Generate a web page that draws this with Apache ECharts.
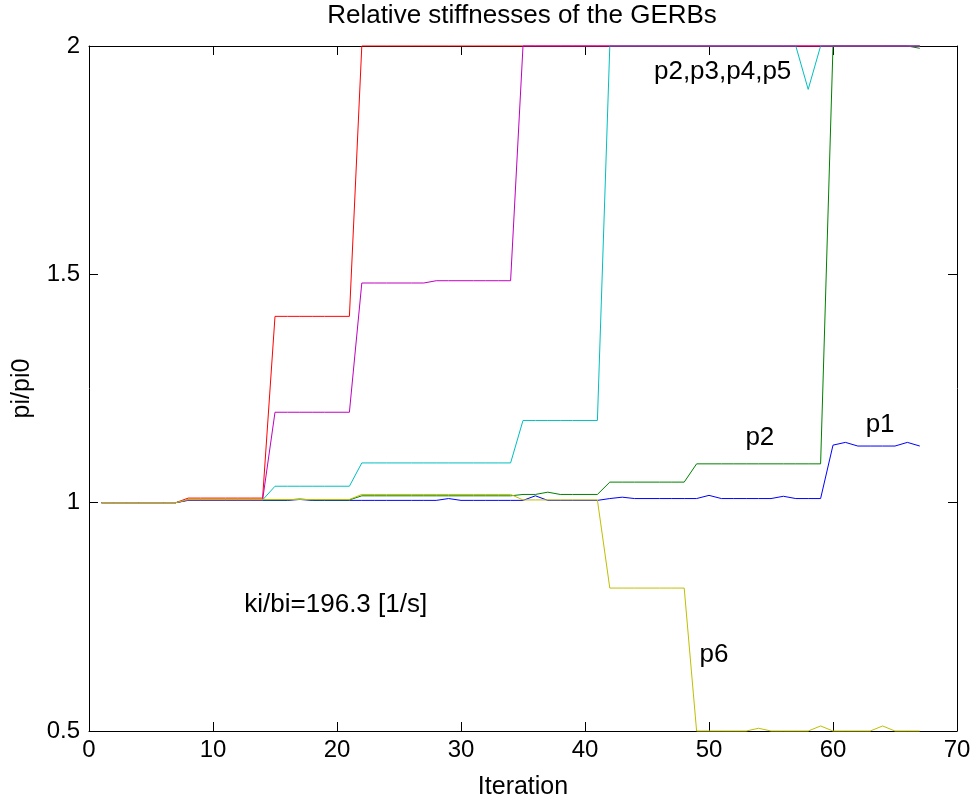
<!DOCTYPE html>
<html>
<head>
<meta charset="utf-8">
<script src="https://cdn.jsdelivr.net/npm/echarts@6/dist/echarts.min.js"></script>
<style>
html,body{margin:0;padding:0;background:#fff;}
#chart{width:975px;height:803px;}
</style>
</head>
<body>
<div id="chart"></div>
<script>
// Iteration numbers (x values)
const iterations = [1,2,3,4,5,6,7,8,9,10,11,12,13,14,15,16,17,18,19,20,21,22,23,24,25,26,27,28,29,30,31,32,33,34,35,36,37,38,39,40,41,42,43,44,45,46,47,48,49,50,51,52,53,54,55,56,57,58,59,60,61,62,63,64,65,66,67];

// p1 (blue)
const p1 = [1,1,1,1,1,1,1,
  1.005,1.005,1.005,1.005,1.005,1.005,1.005,1.005,1.005,
  1.007,
  1.005,1.005,1.005,1.005,1.005,1.005,1.005,1.005,1.005,1.005,1.005,
  1.009,
  1.005,1.005,1.005,1.005,1.005,1.005,
  1.015,
  1.005,1.005,1.005,1.005,1.005,
  1.009,1.012,
  1.009,1.009,1.009,1.009,1.009,1.009,
  1.016,
  1.009,1.009,1.009,1.009,1.009,
  1.014,
  1.009,1.009,1.009,
  1.126,1.132,1.124,1.124,1.124,1.124,1.132,1.124];

// p2 (green)
const p2 = [1,1,1,1,1,1,1,
  1.006,1.006,1.006,1.006,1.006,1.006,1.006,1.006,1.006,1.008,1.006,1.006,1.006,1.006,
  1.015,1.015,1.015,1.015,1.015,1.015,1.015,1.015,1.015,1.015,1.015,1.015,1.015,
  1.018,1.018,1.023,1.018,1.018,1.018,1.018,
  1.045,1.045,1.045,1.045,1.045,1.045,1.045,
  1.085,1.085,1.085,1.085,1.085,1.085,1.085,1.085,1.085,1.085,1.085,
  2,2,2,2,2,2,2,1.995];

// p3 (red)
const p3 = [1,1,1,1,1,1,1,
  1.01,1.01,1.01,1.01,1.01,1.01,1.01,
  1.408,1.408,1.408,1.408,1.408,1.408,1.408,
  2,2,2,2,2,2,2,2,2,2,2,2,2,2,2,2,2,2,2,2,2,2,2,2,2,2,2,2,2,2,2,2,2,2,2,2,2,2,2,2,2,2,2,2,2,2];

// p4 (cyan)
const p4 = [1,1,1,1,1,1,1,
  1.006,1.006,1.006,1.006,1.006,1.006,1.006,
  1.036,1.036,1.036,1.036,1.036,1.036,1.036,
  1.087,1.087,1.087,1.087,1.087,1.087,1.087,1.087,1.087,1.087,1.087,1.087,1.087,
  1.18,1.18,1.18,1.18,1.18,1.18,1.18,
  2,2,2,2,2,2,2,2,2,2,2,2,2,2,2,2,
  1.905,
  2,2,2,2,2,2,2,2,2];

// p5 (magenta)
const p5 = [1,1,1,1,1,1,1,
  1.006,1.006,1.006,1.006,1.006,1.006,1.006,
  1.198,1.198,1.198,1.198,1.198,1.198,1.198,
  1.481,1.481,1.481,1.481,1.481,1.481,
  1.486,1.486,1.486,1.486,1.486,1.486,1.486,
  2,2,2,2,2,2,2,2,2,2,2,2,2,2,2,2,2,2,2,2,2,2,2,2,2,2,2,2,2,2,2,2,2];

// p6 (yellow)
const p6 = [1,1,1,1,1,1,1,
  1.007,1.007,1.007,1.007,1.007,1.007,1.007,1.007,1.007,1.007,1.007,1.007,1.007,1.007,
  1.018,1.018,1.018,1.018,1.018,1.018,1.018,1.018,1.018,1.018,1.018,1.018,1.018,
  1.006,1.006,1.006,1.006,1.006,1.006,1.006,
  0.813,0.813,0.813,0.813,0.813,0.813,0.813,
  0.5,0.5,0.5,0.5,0.5,
  0.506,
  0.5,0.5,0.5,0.5,
  0.511,
  0.5,0.5,0.5,0.5,
  0.511,
  0.5,0.5,0.5];

const seriesNames = ['p1','p2','p3','p4','p5','p6'];
const seriesValues = [p1,p2,p3,p4,p5,p6];
const seriesColors = ['#0000ff','#008000','#ff0000','#00bfbf','#bf00bf','#bfbf00'];

const xTicks = {min:0, max:70, interval:10};
const yTicks = {min:0.5, max:2, interval:0.5};

const titleText = 'Relative stiffnesses of the GERBs';
const xName = 'Iteration';
const yName = 'pi/pi0';

// annotations in data coordinates
const annotations = [
  {text:'p2,p3,p4,p5', x:51.1, y:1.943},
  {text:'p2', x:54.1, y:1.142},
  {text:'p1', x:63.8, y:1.171},
  {text:'p6', x:50.4, y:0.667},
  {text:'ki/bi=196.3 [1/s]', x:19.9, y:0.777}
];

const FONT = 'Liberation Sans, Arial, Helvetica, sans-serif';
const FS_TICK = 24;
const FS_NAME = 25;
const FS_TITLE = 26;
const FS_ANN = 26;

const chart = echarts.init(document.getElementById('chart'), null, {renderer:'canvas'});

function axisCommon(showLabel){
  return {
    axisLine:{show:true, onZero:false, lineStyle:{color:'#000', width:1}},
    axisTick:{show:true, inside:true, length:9, lineStyle:{color:'#000', width:1}},
    axisLabel:{show:showLabel, color:'#000', fontSize:FS_TICK, fontFamily:FONT},
    splitLine:{show:false}
  };
}

const option = {
  animation:false,
  backgroundColor:'#fff',
  grid:{left:89, right:18, top:46, bottom:72, containLabel:false, outerBoundsMode:'none'},
  xAxis:[
    Object.assign({type:'value', position:'bottom', min:xTicks.min, max:xTicks.max, interval:xTicks.interval,
      name:xName, nameLocation:'middle', nameGap:44,
      nameTextStyle:{fontSize:FS_NAME, color:'#000', fontFamily:FONT}}, axisCommon(true),
      {axisLabel:{show:true, color:'#000', fontSize:FS_TICK, fontFamily:FONT, margin:7}}),
    Object.assign({type:'value', position:'top', min:xTicks.min, max:xTicks.max, interval:xTicks.interval}, axisCommon(false))
  ],
  yAxis:[
    Object.assign({type:'value', position:'left', min:yTicks.min, max:yTicks.max, interval:yTicks.interval,
      name:yName, nameLocation:'middle', nameGap:54, nameRotate:90,
      nameTextStyle:{fontSize:FS_NAME, color:'#000', fontFamily:FONT}}, axisCommon(true),
      {axisLabel:{show:true, color:'#000', fontSize:FS_TICK, fontFamily:FONT, margin:9}}),
    Object.assign({type:'value', position:'right', min:yTicks.min, max:yTicks.max, interval:yTicks.interval}, axisCommon(false))
  ],
  series: seriesNames.map((n,i)=>({
    name:n, type:'line', xAxisIndex:0, yAxisIndex:0,
    data: seriesValues[i].map((v,k)=>[iterations[k], v]),
    showSymbol:false, symbol:'none', clip:false,
    lineStyle:{color:seriesColors[i], width:1},
    itemStyle:{color:seriesColors[i]},
    z: 2 + i
  }))
};

chart.setOption(option);

const graphics = annotations.map(a=>{
  const p = chart.convertToPixel({xAxisIndex:0, yAxisIndex:0}, [a.x, a.y]);
  return {
    type:'text', x:p[0], y:p[1], z:100,
    style:{text:a.text, fill:'#000', font: FS_ANN + 'px ' + FONT, align:'center', verticalAlign:'middle'}
  };
});
// title centred over the plot area
const tl = chart.convertToPixel({xAxisIndex:0}, (xTicks.min + xTicks.max) / 2);
graphics.push({
  type:'text', x:tl - 1, y:16, z:100,
  style:{text:titleText, fill:'#000', font: FS_TITLE + 'px ' + FONT, align:'center', verticalAlign:'middle'}
});
chart.setOption({graphic:graphics});
</script>
</body>
</html>
